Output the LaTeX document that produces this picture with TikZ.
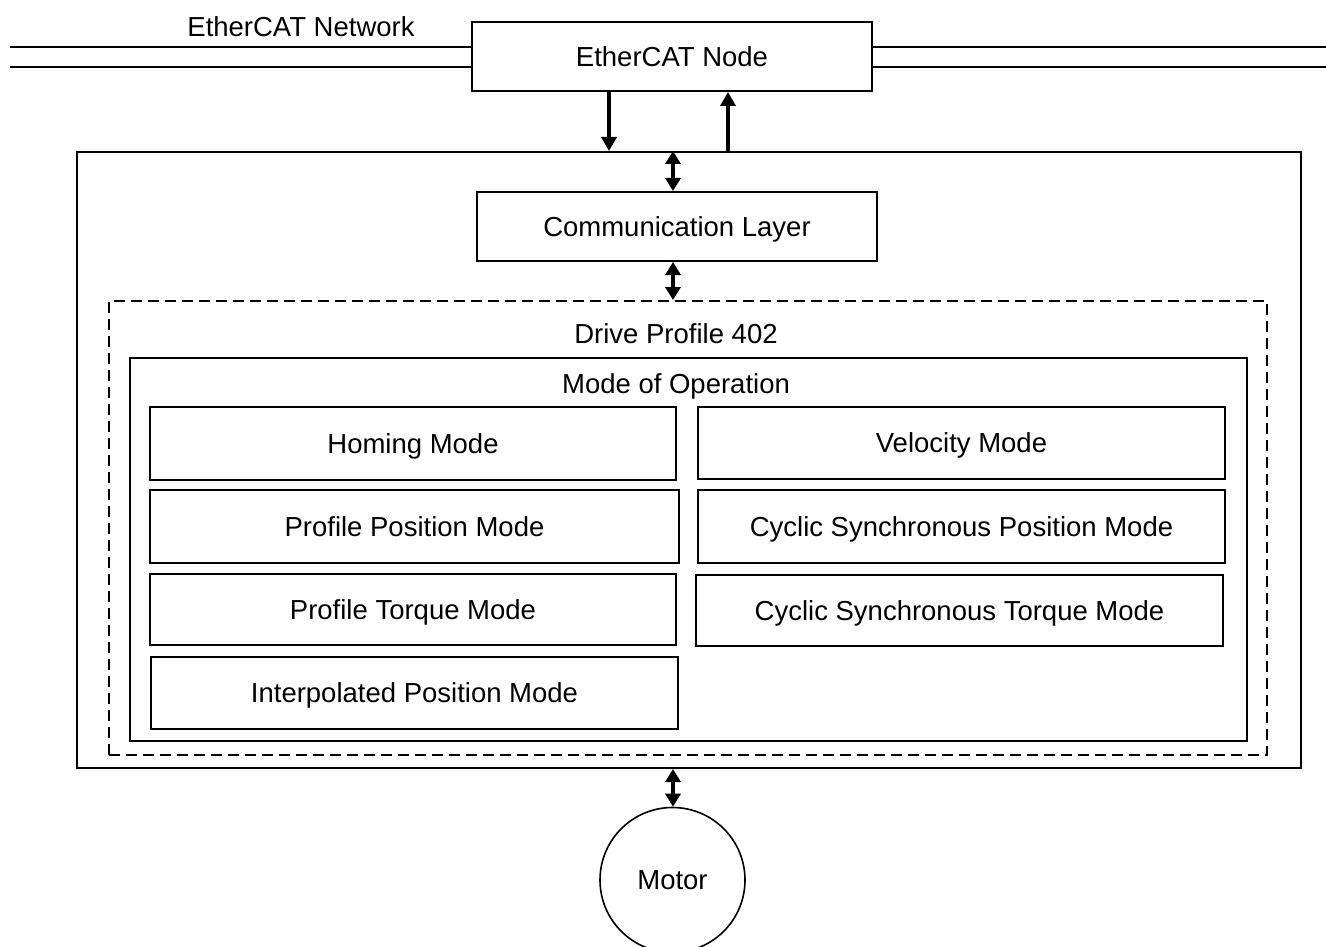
\documentclass[tikz,border=0pt]{standalone}
\usepackage{fontspec}
\setmainfont{Liberation Sans}
\usetikzlibrary{arrows.meta}
\begin{document}
\begin{tikzpicture}[x=1pt,y=-1pt,
  box/.style={draw, line width=2pt, rectangle, inner sep=0pt},
  lbl/.style={inner sep=0pt, font=\fontsize{27.5}{33}\selectfont, text height=19.7pt, text depth=0pt},
  netline/.style={line width=1.6pt},
  thickarrow/.style={line width=4pt, -{Triangle[length=14pt,width=15pt]}},
  dblarrow/.style={line width=4pt, {Triangle[length=13pt,width=15pt]}-{Triangle[length=13pt,width=15pt]}},
]
\useasboundingbox[fill=white] (0,0) rectangle (1326,947);

% EtherCAT node and network
\node[box, minimum width=400pt, minimum height=69pt, lbl] (ecn) at (672,56.5) {EtherCAT Node};
\node[lbl, anchor=center] (netlbl) at (301,27) {EtherCAT Network};
\coordinate (l1) at (10,47);
\coordinate (l2) at (10,67);
\coordinate (r1) at (1326,47);
\coordinate (r2) at (1326,67);
\draw[netline] (l1) -- (l1 -| ecn.west);
\draw[netline] (l2) -- (l2 -| ecn.west);
\draw[netline] (r1) -- (r1 -| ecn.east);
\draw[netline] (r2) -- (r2 -| ecn.east);

% outer box
\node[box, minimum width=1224pt, minimum height=616pt] (outer) at (689,460) {};

% arrows between node and outer
\coordinate (xd) at (609,0);
\coordinate (xu) at (728,0);
\coordinate (xm) at (673,0);
\draw[thickarrow] (ecn.south -| xd) -- (outer.north -| xd);
\draw[thickarrow] (outer.north -| xu) -- (ecn.south -| xu);

% communication layer
\node[box, minimum width=400pt, minimum height=69pt, lbl] (comm) at (677,226.5) {Communication Layer};
\draw[dblarrow] (outer.north -| xm) -- (comm.north -| xm);

% drive profile (dashed)
\node[draw, line width=2pt, dash pattern=on 11pt off 6pt, minimum width=1158pt, minimum height=454pt, inner sep=0pt] (dp) at (688,528) {};
\draw[dblarrow] (comm.south -| xm) -- (dp.north -| xm);
\node[lbl] (dplbl) at (676,334) {Drive Profile 402};

% mode of operation
\node[box, minimum width=1117pt, minimum height=383pt] (mop) at (688.5,549.5) {};
\node[lbl] (moplbl) at (676,384) {Mode of Operation};

% modes
\node[box, lbl, minimum width=526pt, minimum height=73pt] (hom) at (413,443.5) {Homing Mode};
\node[box, lbl, minimum width=527pt, minimum height=72pt] (vel) at (961.5,443) {Velocity Mode};
\node[box, lbl, minimum width=529pt, minimum height=73pt] (pp) at (414.5,526.5) {Profile Position Mode};
\node[box, lbl, minimum width=527pt, minimum height=73pt] (csp) at (961.5,526.5) {Cyclic Synchronous Position Mode};
\node[box, lbl, minimum width=526pt, minimum height=71pt] (pt) at (413,609.5) {Profile Torque Mode};
\node[box, lbl, minimum width=527pt, minimum height=71pt] (cst) at (959.5,610.5) {Cyclic Synchronous Torque Mode};
\node[box, lbl, minimum width=527pt, minimum height=72pt] (ip) at (414.5,693) {Interpolated Position Mode};

% motor
\node[draw, line width=1.6pt, circle, minimum size=145pt, inner sep=0pt, lbl] (motor) at (672.5,880) {Motor};
\draw[dblarrow] (outer.south -| xm) -- (motor.north -| xm);
\end{tikzpicture}
\end{document}
